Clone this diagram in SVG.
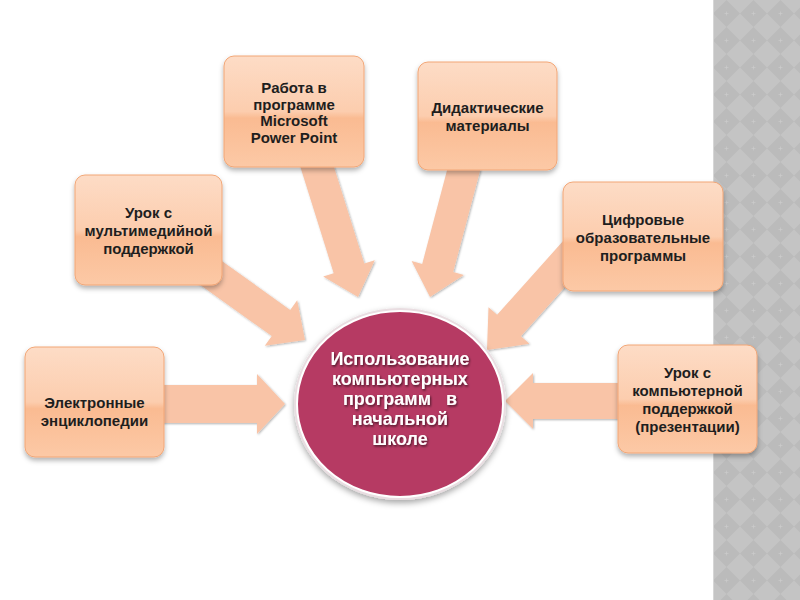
<svg xmlns="http://www.w3.org/2000/svg" width="800" height="600" viewBox="0 0 800 600">
<defs>
  <pattern id="chk" x="713" y="0" width="27" height="27" patternUnits="userSpaceOnUse">
    <rect width="27" height="27" fill="#c4c4c4"/>
    <polygon points="13.5,0 27,13.5 13.5,27 0,13.5" fill="#bbbbbb"/>
    <path d="M11.5 13.5h4M13.5 11.5v4" stroke="#cccccc" stroke-width="0.6"/>
  </pattern>
  <linearGradient id="boxg" x1="0" y1="0" x2="0" y2="1">
    <stop offset="0" stop-color="#fddcc6"/>
    <stop offset="0.5" stop-color="#fccdae"/>
    <stop offset="0.56" stop-color="#fabb92"/>
    <stop offset="1" stop-color="#fcc9a6"/>
  </linearGradient>
  <filter id="sh" x="-20%" y="-20%" width="140%" height="150%">
    <feDropShadow dx="0" dy="3" stdDeviation="2.5" flood-color="#000" flood-opacity="0.3"/>
  </filter>
  <filter id="ash" x="-20%" y="-20%" width="140%" height="140%">
    <feDropShadow dx="1" dy="1" stdDeviation="1" flood-color="#000" flood-opacity="0.3"/>
  </filter>
  <filter id="csh" x="-20%" y="-20%" width="140%" height="140%">
    <feDropShadow dx="0" dy="3" stdDeviation="3" flood-color="#000" flood-opacity="0.35"/>
  </filter>
  <filter id="tsh" x="-10%" y="-20%" width="120%" height="150%">
    <feDropShadow dx="1" dy="1.5" stdDeviation="0.8" flood-color="#000" flood-opacity="0.6"/>
  </filter>
</defs>
<style>
  .box { fill: url(#boxg); stroke: #f2a676; stroke-width: 1; filter: url(#sh); }
  .arr { fill: #f9c4a7; filter: url(#ash); }
  .bt { font-family: "Liberation Sans", Arial, sans-serif; font-weight: bold; font-size: 15px; fill: #1e1e1e; text-anchor: middle; }
  .ct { font-family: "Liberation Sans", Arial, sans-serif; font-weight: bold; font-size: 18px; fill: #ffffff; text-anchor: middle; white-space: pre; filter: url(#tsh); }
</style>
<rect width="800" height="600" fill="#ffffff"/>
<rect x="713" y="0" width="87" height="600" fill="url(#chk)"/>
<line x1="713.5" y1="0" x2="713.5" y2="600" stroke="#d6d6d6" stroke-width="1"/>

<g id="connectors">
  <polygon class="arr" points="299.7,164.8 333.7,273.2 323.2,276.5 358,297 374.8,260.3 364.3,263.6 330.3,155.2"/>
  <polygon class="arr" points="480.5,169.1 453.2,272.1 463.8,274.9 430,297 411.6,261.1 422.2,263.9 449.5,160.9"/>
  <polygon class="arr" points="173.8,266.1 271.8,336.1 264.8,345.8 305,340 297.2,300.2 290.2,309.9 192.2,239.9"/>
  <polygon class="arr" points="605.6,241.5 520.9,336.2 529.5,343.8 487,350 488.5,307.2 497.1,314.8 581.8,220.1"/>
  <polygon class="arr" points="160,385 257,385 257,374 285,404 257,434 257,423 160,423"/>
  <polygon class="arr" points="625,383 533,383 533,373 505,401 533,429 533,419 625,419"/>
</g>

<g id="center">
  <ellipse cx="400" cy="404" rx="106" ry="96" fill="#e9dde1" filter="url(#csh)"/>
  <ellipse cx="400" cy="404" rx="103" ry="93" fill="#b63a63" stroke="#ffffff" stroke-width="2"/>
  <text class="ct" x="400" y="365">Использование</text>
  <text class="ct" x="400" y="385">компьютерных</text>
  <text class="ct" x="400" y="405">программ   в</text>
  <text class="ct" x="400" y="425">начальной</text>
  <text class="ct" x="400" y="445">школе</text>
</g>

<g id="n-powerpoint">
  <rect class="box" x="224" y="56" width="140" height="111" rx="10"/>
  <text class="bt" x="294" y="93">Работа в</text>
  <text class="bt" x="294" y="109.5">программе</text>
  <text class="bt" x="294" y="126">Microsoft</text>
  <text class="bt" x="294" y="142.5">Power Point</text>
</g>

<g id="n-didactic">
  <rect class="box" x="418" y="62" width="139" height="108" rx="10"/>
  <text class="bt" x="487.5" y="113">Дидактические</text>
  <text class="bt" x="487.5" y="131">материалы</text>
</g>

<g id="n-multimedia">
  <rect class="box" x="75" y="175" width="147" height="110" rx="10"/>
  <text class="bt" x="148.5" y="218">Урок с</text>
  <text class="bt" x="148.5" y="236">мультимедийной</text>
  <text class="bt" x="148.5" y="254">поддержкой</text>
</g>

<g id="n-digital">
  <rect class="box" x="563" y="182" width="160" height="109" rx="10"/>
  <text class="bt" x="643" y="225">Цифровые</text>
  <text class="bt" x="643" y="243">образовательные</text>
  <text class="bt" x="643" y="261">программы</text>
</g>

<g id="n-encyclopedia">
  <rect class="box" x="25" y="347" width="139" height="110" rx="10"/>
  <text class="bt" x="94.5" y="408">Электронные</text>
  <text class="bt" x="94.5" y="426">энциклопедии</text>
</g>

<g id="n-computer">
  <rect class="box" x="618" y="345" width="139" height="108" rx="10"/>
  <text class="bt" x="687.5" y="378">Урок с</text>
  <text class="bt" x="687.5" y="396">компьютерной</text>
  <text class="bt" x="687.5" y="414">поддержкой</text>
  <text class="bt" x="687.5" y="432">(презентации)</text>
</g>
</svg>
